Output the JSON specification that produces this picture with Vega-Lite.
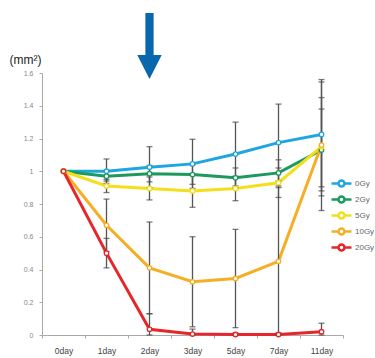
{
  "$schema": "https://vega.github.io/schema/vega-lite/v6.json",
  "autosize": "none",
  "width": 301,
  "height": 262,
  "padding": {"left": 42, "top": 73, "right": 32, "bottom": 23},
  "background": "white",
  "config": {
    "view": {"stroke": null},
    "font": "Liberation Sans",
    "axisY": {"labelOverlap": false, "labelFontSize": 7, "labelColor": "#888", "labelPadding": 6, "tickSize": 3, "tickColor": "#aaa", "domainColor": "#aaa", "grid": false, "values": [0, 0.2, 0.4, 0.6, 0.8, 1, 1.2, 1.4, 1.6], "format": "~g"},
    "legend": {"rowPadding": -1, "symbolSize": 100, "labelFontSize": 8}
  },
  "datasets": {
    "series": [
      {"dose": "0Gy", "day": "0day", "value": 1.0},
      {"dose": "0Gy", "day": "1day", "value": 1.0, "lo": 0.925, "hi": 1.075},
      {"dose": "0Gy", "day": "2day", "value": 1.025, "lo": 0.9, "hi": 1.15},
      {"dose": "0Gy", "day": "3day", "value": 1.045, "lo": 0.895, "hi": 1.195},
      {"dose": "0Gy", "day": "5day", "value": 1.105, "lo": 0.91, "hi": 1.3},
      {"dose": "0Gy", "day": "7day", "value": 1.175, "lo": 0.94, "hi": 1.41},
      {"dose": "0Gy", "day": "11day", "value": 1.225, "lo": 0.905, "hi": 1.545},
      {"dose": "2Gy", "day": "0day", "value": 1.0},
      {"dose": "2Gy", "day": "1day", "value": 0.97, "lo": 0.94, "hi": 1.0},
      {"dose": "2Gy", "day": "2day", "value": 0.985, "lo": 0.935, "hi": 1.035},
      {"dose": "2Gy", "day": "3day", "value": 0.98, "lo": 0.92, "hi": 1.04},
      {"dose": "2Gy", "day": "5day", "value": 0.96, "lo": 0.9, "hi": 1.02},
      {"dose": "2Gy", "day": "7day", "value": 0.99, "lo": 0.91, "hi": 1.07},
      {"dose": "2Gy", "day": "11day", "value": 1.13, "lo": 0.88, "hi": 1.38},
      {"dose": "5Gy", "day": "0day", "value": 1.0},
      {"dose": "5Gy", "day": "1day", "value": 0.91, "lo": 0.87, "hi": 0.95},
      {"dose": "5Gy", "day": "2day", "value": 0.895, "lo": 0.825, "hi": 0.965},
      {"dose": "5Gy", "day": "3day", "value": 0.88, "lo": 0.78, "hi": 0.98},
      {"dose": "5Gy", "day": "5day", "value": 0.895, "lo": 0.82, "hi": 0.97},
      {"dose": "5Gy", "day": "7day", "value": 0.93, "lo": 0.84, "hi": 1.02},
      {"dose": "5Gy", "day": "11day", "value": 1.15, "lo": 0.85, "hi": 1.45},
      {"dose": "10Gy", "day": "0day", "value": 1.0},
      {"dose": "10Gy", "day": "1day", "value": 0.67, "lo": 0.51, "hi": 0.83},
      {"dose": "10Gy", "day": "2day", "value": 0.41, "lo": 0.13, "hi": 0.69},
      {"dose": "10Gy", "day": "3day", "value": 0.325, "lo": 0.05, "hi": 0.6},
      {"dose": "10Gy", "day": "5day", "value": 0.345, "lo": 0.045, "hi": 0.645},
      {"dose": "10Gy", "day": "7day", "value": 0.45, "lo": 0.0, "hi": 0.9},
      {"dose": "10Gy", "day": "11day", "value": 1.16, "lo": 0.76, "hi": 1.56},
      {"dose": "20Gy", "day": "0day", "value": 1.0},
      {"dose": "20Gy", "day": "1day", "value": 0.5, "lo": 0.41, "hi": 0.59},
      {"dose": "20Gy", "day": "2day", "value": 0.035, "lo": 0.0, "hi": 0.13},
      {"dose": "20Gy", "day": "3day", "value": 0.006, "lo": 0.0, "hi": 0.036},
      {"dose": "20Gy", "day": "5day", "value": 0.003, "lo": 0.0, "hi": 0.013},
      {"dose": "20Gy", "day": "7day", "value": 0.003, "lo": 0.0, "hi": 0.013},
      {"dose": "20Gy", "day": "11day", "value": 0.02, "lo": 0.0, "hi": 0.072}
    ],
    "arrow": [{"day": "2day", "value": 1.765}]
  },
  "encoding": {
    "x": {
      "field": "day", "type": "ordinal",
      "scale": {"type": "band", "domain": ["0day", "1day", "2day", "3day", "5day", "7day", "11day"], "paddingInner": 0, "paddingOuter": 0},
      "axis": {"title": null, "labelAngle": 0, "labelFontSize": 8.5, "labelColor": "#444", "labelPadding": 8, "tickBand": "extent", "tickSize": 3, "tickColor": "#aaa", "domainColor": "#aaa", "grid": false}
    }
  },
  "layer": [
    {
      "data": {"name": "series"},
      "mark": {"type": "line", "strokeWidth": 3},
      "encoding": {
        "y": {
          "field": "value", "type": "quantitative",
          "scale": {"domain": [0, 1.6], "nice": false},
          "axis": {"title": "(mm²)", "titleAngle": 0, "titleAlign": "left", "titleBaseline": "middle", "titleX": -33, "titleY": -14, "titleFontSize": 12, "titleFontWeight": "normal", "titleColor": "#222"}
        },
        "color": {
          "field": "dose", "type": "nominal",
          "scale": {"domain": ["0Gy", "2Gy", "5Gy", "10Gy", "20Gy"], "range": ["#1fa6df", "#1b9a5c", "#f4df1c", "#f4af24", "#e6262b"]},
          "legend": {"title": null, "orient": "none", "legendX": 293, "legendY": 104, "padding": 0, "symbolType": "M -2 0 L -0.6 0 M 0.6 0 L 2 0 M 0.6 0 A 0.6 0.6 0 1 1 -0.6 0 A 0.6 0.6 0 1 1 0.6 0", "symbolSize": 100, "symbolStrokeWidth": 2.5, "symbolFillColor": "white", "rowPadding": -1, "labelFontSize": 8, "labelColor": "#666", "labelOffset": 7}
        }
      }
    },
    {
      "data": {"name": "series"},
      "mark": {"type": "rule", "color": "#555", "strokeWidth": 1.3},
      "encoding": {
        "y": {"field": "lo", "type": "quantitative"},
        "y2": {"field": "hi"}
      }
    },
    {
      "data": {"name": "series"},
      "mark": {"type": "tick", "color": "#444", "orient": "horizontal", "size": 6, "thickness": 1.3},
      "encoding": {"y": {"field": "lo", "type": "quantitative"}}
    },
    {
      "data": {"name": "series"},
      "mark": {"type": "tick", "color": "#444", "orient": "horizontal", "size": 6, "thickness": 1.3},
      "encoding": {"y": {"field": "hi", "type": "quantitative"}}
    },
    {
      "data": {"name": "series"},
      "mark": {"type": "point", "shape": "circle", "filled": true, "fill": "white", "size": 20, "strokeWidth": 1.3, "opacity": 1},
      "encoding": {
        "y": {"field": "value", "type": "quantitative"},
        "stroke": {"field": "dose", "type": "nominal", "scale": {"domain": ["0Gy", "2Gy", "5Gy", "10Gy", "20Gy"], "range": ["#1fa6df", "#1b9a5c", "#f4df1c", "#f4af24", "#e6262b"]}, "legend": null}
      }
    },
    {
      "data": {"name": "arrow"},
      "mark": {"type": "point", "shape": "M -0.125 -1 L 0.125 -1 L 0.125 0.27 L 0.37 0.27 L 0 1 L -0.37 0.27 L -0.125 0.27 Z", "filled": true, "color": "#0b67ad", "size": 4356, "opacity": 1},
      "encoding": {"y": {"field": "value", "type": "quantitative"}}
    }
  ]
}
